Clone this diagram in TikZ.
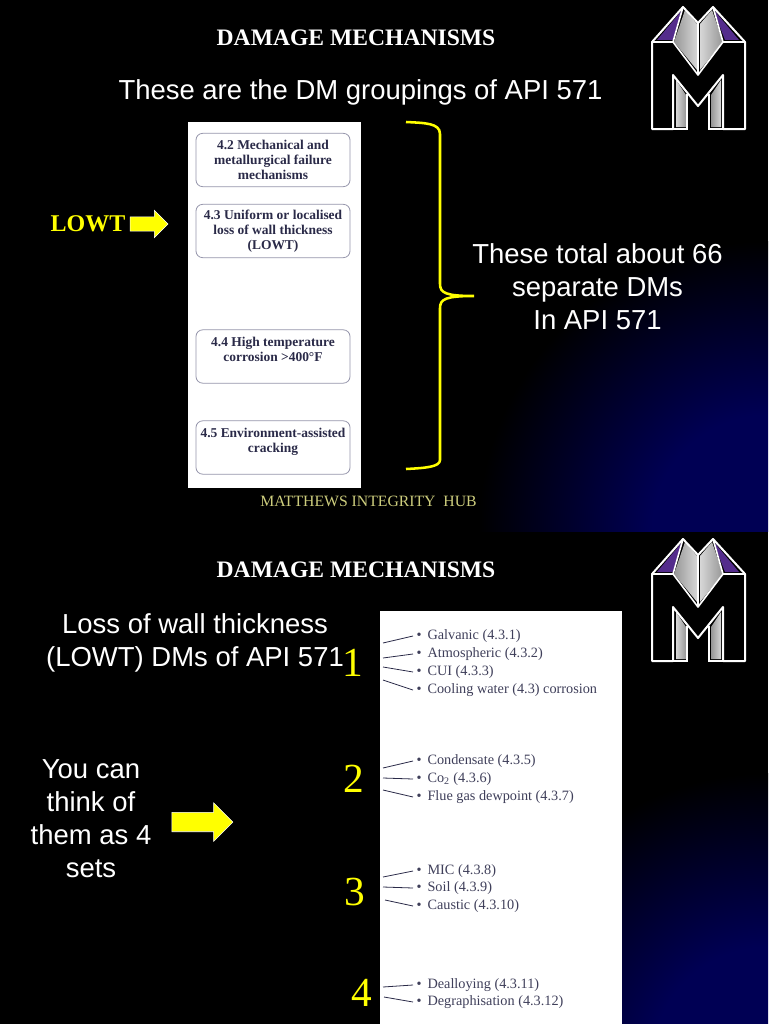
\documentclass[tikz,border=0pt]{standalone}
\usepackage{xcolor}
\usepackage{fontspec}
\setmainfont{Liberation Serif}
\setsansfont{Liberation Sans}
\usetikzlibrary{shapes.arrows, positioning, calc}
\definecolor{slideyellow}{RGB}{255,255,0}
\definecolor{hubkhaki}{RGB}{205,205,125}
\definecolor{logopurple}{RGB}{84,44,140}
\definecolor{logolight}{RGB}{215,215,215}
\definecolor{logodark}{RGB}{150,150,150}
\definecolor{scaninkdark}{RGB}{42,42,72}
\definecolor{scanedge}{RGB}{150,150,172}
\definecolor{glownavy}{RGB}{0,0,84}
\pgfdeclareradialshading{cornerglow}{\pgfpointorigin}{color(0bp)=(glownavy); color(10bp)=(glownavy); color(25bp)=(black); color(50bp)=(black)}

\begin{document}
\begin{tikzpicture}[
  x=0.75pt, y=-0.75pt,
  slidetitle/.style={font=\fontsize{17.7}{20}\selectfont\bfseries, text=white, inner sep=0pt},
  saytext/.style={font=\fontsize{20.6}{24.7}\selectfont\sffamily, text=white, align=center, inner sep=0pt},
  setnumber/.style={font=\fontsize{31}{36}\selectfont, text=slideyellow, inner sep=0pt},
  scanpage/.style={fill=white, draw=none, anchor=north west, inner sep=0pt},
  dmbox/.style={
    rectangle, rounded corners=5pt, draw=scanedge, line width=0.6pt, fill=white,
    minimum width=115.5pt, minimum height=40pt, inner sep=0pt,
    align=center, text=scaninkdark, font=\fontsize{10.1}{11.2}\selectfont\bfseries
  },
  dmitem/.style={anchor=west, inner sep=0pt, inner xsep=2.5pt, text=scaninkdark!90!white, font=\fontsize{10.7}{12}\selectfont},
  ticktext/.style={draw=scaninkdark, line width=0.6pt},
  yellowarrow/.style={
    single arrow, draw=white, line width=0.4pt, fill=slideyellow,
    single arrow head indent=0pt
  },
  logomark/.pic={
    \fill[logopurple] (657,40) -- (683,9) -- (673,40) -- cycle;
    \fill[logopurple] (713,9) -- (739,40) -- (725,40) -- cycle;
    \shade[left color=logodark, right color=logolight] (685,10) -- (697,24) -- (697,70) -- (674,42) -- cycle;
    \shade[left color=logolight, right color=logodark] (700,24) -- (712,10) -- (723,42) -- (700,70) -- cycle;
    \shade[left color=logolight, right color=logodark] (676,80) -- (686,95) -- (686,127) -- (676,127) -- cycle;
    \shade[left color=logodark, right color=logolight] (721,80) -- (711,95) -- (711,127) -- (721,127) -- cycle;
    \draw[white, line width=1.5pt, line join=round]
      (652,129) -- (652,42) -- (683,7) -- (698,23) -- (713,7) -- (745,42) -- (745,129)
      -- (723,129) -- (723,75) -- (698,106) -- (673,75) -- (673,129) -- cycle;
    \draw[white, line width=1.2pt, line join=round]
      (652,42) -- (673,42) -- (698,75) -- (723,42) -- (745,42);
    \draw[white, line width=1.2pt] (698,23) -- (698,75);
    \draw[white, line width=1.2pt] (683,7) -- (673,42);
    \draw[white, line width=1.2pt] (713,7) -- (723,42);
    \draw[white, line width=1.2pt] (687,94) -- (687,129) -- (673,129);
    \draw[white, line width=1.2pt] (709,94) -- (709,129) -- (723,129);
  }
]
\useasboundingbox (0,0) rectangle (768,1024);
\fill[black] (0,0) rectangle (768,1024);

% slide backgrounds
\begin{scope}
  \clip (0,0) rectangle (768,531);
  \shade[shading=cornerglow] (768,531) circle [radius=290];
\end{scope}
\begin{scope}
  \clip (0,532) rectangle (768,1024);
  \shade[shading=cornerglow] (768,1063) circle [radius=290];
\end{scope}

\pic at (0,0) {logomark};
\pic at (0,532) {logomark};

% first slide
\node[slidetitle] (title1) at (356,37.5) {DAMAGE MECHANISMS};
\node[saytext] (groupings) at (360.5,92) {These are the DM groupings of API 571};
\node[scanpage, minimum width=129.75pt, minimum height=274.5pt] (page1) at (188,122) {};

\node[dmbox] (box42) at (273,160) {4.2 Mechanical and\\metallurgical failure\\mechanisms};
\node[dmbox] (box43) at (273,231) {4.3 Uniform or localised\\loss of wall thickness\\(LOWT)};
\node[dmbox] (box44) at (273,356.5) {4.4 High temperature\\corrosion >400°F\\~};
\node[dmbox] (box45) at (273,447.5) {4.5 Environment-assisted\\cracking\\~};

\node[font=\fontsize{18}{20}\selectfont\bfseries, text=slideyellow, inner sep=0pt] (lowt) at (88,224) {LOWT};
\node[yellowarrow, minimum height=28.5pt, minimum width=20.25pt, inner sep=5.2pt, single arrow head extend=4.9pt] (lowtarrow) at (145.5,224) {};

\coordinate (bracetop) at (406,122);
\coordinate (bracetip) at (474,296);
\coordinate (bracebot) at (406,469);
\draw[slideyellow, line width=1.9pt]
  (bracetop) .. controls (425,123) and (440,123) .. (440,134)
  -- (440,284) .. controls (440,293) and (446,296) .. (bracetip)
  .. controls (446,296) and (440,299) .. (440,308)
  -- (440,460) .. controls (440,467) and (425,468) .. (bracebot);

\node[saytext] (total) at (597.5,287) {These total about 66\\separate DMs\\In API 571};
\node[font=\fontsize{11.8}{14}\selectfont, text=hubkhaki, inner sep=0pt] (hub) at (368.5,501.5) {MATTHEWS INTEGRITY\ \ HUB};

% second slide
\node[slidetitle] (title2) at (356,569.5) {DAMAGE MECHANISMS};
\node[saytext] (lossof) at (195,643) {Loss of wall thickness\\(LOWT) DMs of API 571};
\node[saytext] (foursets) at (91,819) {You can\\think of\\them as 4\\sets};
\node[yellowarrow, minimum height=45.75pt, minimum width=28.5pt, inner sep=7.1pt, single arrow head extend=7.1pt] (setsarrow) at (197.5,822) {};
\node[scanpage, minimum width=181.5pt, minimum height=309.75pt] (page2) at (380,611) {};

\node[setnumber] (set1) at (353,663) {1};
\node[setnumber] (set2) at (354,779) {2};
\node[setnumber] (set3) at (355,892) {3};
\node[setnumber] (set4) at (362,993) {4};

\node[dmitem] (galvanic) at (413,636) {\textbullet\ \,Galvanic (4.3.1)};
\node[dmitem] (atmos) at (413,654) {\textbullet\ \,Atmospheric (4.3.2)};
\node[dmitem] (cui) at (413,672) {\textbullet\ \,CUI (4.3.3)};
\node[dmitem] (cooling) at (413,690) {\textbullet\ \,Cooling water (4.3) corrosion};
\node[dmitem] (condensate) at (413,761) {\textbullet\ \,Condensate (4.3.5)};
\node[dmitem] (cotwo) at (413,779) {\textbullet\ \,Co\textsubscript{2} (4.3.6)};
\node[dmitem] (fluegas) at (413,797) {\textbullet\ \,Flue gas dewpoint (4.3.7)};
\node[dmitem] (mic) at (413,871) {\textbullet\ \,MIC (4.3.8)};
\node[dmitem] (soil) at (413,888) {\textbullet\ \,Soil (4.3.9)};
\node[dmitem] (caustic) at (413,906) {\textbullet\ \,Caustic (4.3.10)};
\node[dmitem] (dealloy) at (413,985) {\textbullet\ \,Dealloying (4.3.11)};
\node[dmitem] (degraph) at (413,1002) {\textbullet\ \,Degraphisation (4.3.12)};

\coordinate (tgalvanic) at (383,643);
\coordinate (tatmos) at (383,658);
\coordinate (tcui) at (383,667);
\coordinate (tcooling) at (383,680);
\coordinate (tcondensate) at (383,768);
\coordinate (tcotwo) at (383,778);
\coordinate (tfluegas) at (383,790);
\coordinate (tmic) at (383,877);
\coordinate (tsoil) at (383,887);
\coordinate (tcaustic) at (385,900);
\coordinate (tdealloy) at (383,987);
\coordinate (tdegraph) at (384,997);

\draw[ticktext] (tgalvanic) -- (galvanic.west);
\draw[ticktext] (tatmos) -- (atmos.west);
\draw[ticktext] (tcui) -- (cui.west);
\draw[ticktext] (tcooling) -- (cooling.west);
\draw[ticktext] (tcondensate) -- (condensate.west);
\draw[ticktext] (tcotwo) -- (cotwo.west);
\draw[ticktext] (tfluegas) -- (fluegas.west);
\draw[ticktext] (tmic) -- (mic.west);
\draw[ticktext] (tsoil) -- (soil.west);
\draw[ticktext] (tcaustic) -- (caustic.west);
\draw[ticktext] (tdealloy) -- (dealloy.west);
\draw[ticktext] (tdegraph) -- (degraph.west);

\end{tikzpicture}
\end{document}
